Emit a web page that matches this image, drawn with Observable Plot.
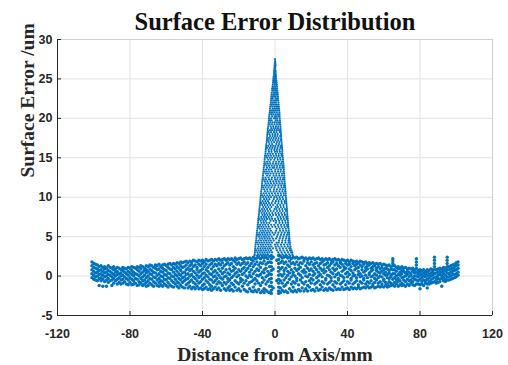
<!DOCTYPE html>
<html>
<head>
<meta charset="utf-8">
<script src="https://cdn.jsdelivr.net/npm/d3@7"></script>
<script src="https://cdn.jsdelivr.net/npm/@observablehq/plot@0.6"></script>
<style>
  html, body { margin: 0; padding: 0; background: #fff; }
  #chart { width: 508px; height: 365px; }
</style>
</head>
<body>
<div id="chart"></div>
<script>
const titleText = "Surface Error Distribution";
const xLabel = "Distance from Axis/mm";
const yLabel = "Surface Error /um";
const xTicks = [-120, -80, -40, 0, 40, 80, 120];
const yTicks = [-5, 0, 5, 10, 15, 20, 25, 30];

// Low band of points: [x, y values...]
const bandColumns = [
  [-101, 1.8, 1.3, 0.8, 0.3, -0.2],
  [-100, 1.6, 1.1, 0.6, 0.1, -0.4],
  [-99, 1.5, 1.0, 0.4, -0.1, -0.5],
  [-98, 1.4, 0.9, 0.5, 0.0, -0.6],
  [-97, 1.2, 0.7, 0.2, -0.3, -1.2],
  [-96, 1.3, 0.8, 0.3, -0.2, -0.6],
  [-95, 1.1, 0.6, 0.1, -0.4, -1.3],
  [-94, 1.2, 0.9, 0.4, -0.1, -0.7],
  [-93, 1.0, 0.5, 0.0, -0.5, -1.3],
  [-92, 1.3, 0.7, 0.2, -0.3, -0.8],
  [-91, 1.1, 0.6, 0.1, -0.6],
  [-90, 1.0, 0.4, -0.1, -0.5, -1.2],
  [-89, 1.2, 0.8, 0.2, -0.3, -0.9],
  [-88, 0.9, 0.5, 0.0, -0.6],
  [-87, 1.1, 0.6, 0.2, -0.4, -1.0],
  [-86, 1.0, 0.3, -0.2, -0.8],
  [-85, 0.8, 0.4, 0.0, -0.5, -1.0],
  [-84, 1.1, 0.7, 0.1, -0.4, -0.9],
  [-83, 1.0, 0.5, -0.1, -0.7],
  [-82, 0.9, 0.3, -0.3, -1.0],
  [-81, 1.1, 0.6, 0.1, -0.5, -1.1],
  [-80, 1.0, 0.4, -0.2, -0.8],
  [-79, 1.2, 0.7, 0.2, -0.4, -1.1],
  [-78, 1.1, 0.5, 0.0, -0.6, -1.0],
  [-77, 1.0, 0.3, -0.3, -0.9],
  [-76, 1.2, 0.8, 0.2, -0.4, -1.2],
  [-75, 1.1, 0.6, 0.0, -0.7, -1.1],
  [-74, 1.3, 0.9, 0.3, -0.3, -0.9],
  [-73, 1.2, 0.5, -0.1, -0.6, -1.2],
  [-72, 1.0, 0.7, 0.1, -0.5, -1.0],
  [-71, 1.3, 0.8, 0.4, -0.2, -0.8, -1.3],
  [-70, 1.2, 0.6, 0.0, -0.6, -1.2],
  [-69, 1.4, 0.9, 0.3, -0.3, -0.9],
  [-68, 1.3, 0.7, 0.2, -0.4, -1.1],
  [-67, 1.1, 0.5, -0.1, -0.7, -1.3],
  [-66, 1.4, 1.0, 0.4, -0.2, -0.9],
  [-65, 1.3, 0.8, 0.1, -0.5, -1.2],
  [-64, 1.5, 0.9, 0.3, -0.3, -0.8, -1.3],
  [-63, 1.2, 0.6, 0.0, -0.6, -1.1],
  [-62, 1.4, 1.0, 0.5, -0.1, -0.7, -1.3],
  [-61, 1.5, 0.8, 0.2, -0.4, -1.0],
  [-60, 1.3, 0.7, 0.1, -0.5, -1.2],
  [-59, 1.5, 1.1, 0.4, -0.2, -0.8, -1.4],
  [-58, 1.6, 0.9, 0.3, -0.3, -1.1],
  [-57, 1.4, 0.8, 0.0, -0.6, -1.3],
  [-56, 1.6, 1.1, 0.5, -0.1, -0.8, -1.4],
  [-55, 1.5, 0.9, 0.2, -0.4, -1.0],
  [-54, 1.7, 1.2, 0.6, 0.0, -0.7, -1.3],
  [-53, 1.6, 1.0, 0.3, -0.3, -0.9, -1.5],
  [-52, 1.8, 1.3, 0.7, 0.1, -0.5, -1.2],
  [-51, 1.7, 1.1, 0.4, -0.2, -0.8, -1.4],
  [-50, 1.8, 1.2, 0.5, -0.1, -0.6, -1.5],
  [-49, 1.9, 1.4, 0.8, 0.2, -0.4, -1.1],
  [-48, 1.7, 1.0, 0.3, -0.3, -0.9, -1.5],
  [-47, 1.9, 1.3, 0.7, 0.0, -0.7, -1.3],
  [-46, 1.8, 1.5, 0.9, 0.2, -0.5, -1.6],
  [-45, 2.0, 1.2, 0.6, -0.1, -0.8, -1.4],
  [-44, 1.9, 1.4, 0.4, -0.3, -1.0, -1.6],
  [-43, 1.8, 1.1, 0.8, 0.1, -0.6, -1.3],
  [-42, 2.0, 1.5, 0.5, -0.2, -0.9, -1.6],
  [-41, 1.9, 1.3, 0.7, 0.0, -0.7, -1.5],
  [-40, 2.0, 1.6, 0.9, 0.3, -0.4, -1.2, -1.7],
  [-39, 1.8, 1.2, 0.4, -0.2, -1.0, -1.6],
  [-38, 2.1, 1.5, 0.8, 0.1, -0.6, -1.4],
  [-37, 1.9, 1.1, 0.6, -0.1, -0.8, -1.7],
  [-36, 2.0, 1.4, 0.3, -0.4, -1.1, -1.6],
  [-35, 2.1, 1.6, 0.9, 0.2, -0.5, -1.3, -1.8],
  [-34, 1.9, 1.2, 0.5, -0.1, -0.8, -1.6],
  [-33, 2.1, 1.5, 0.7, 0.0, -0.6, -1.4],
  [-32, 2.0, 1.3, 0.4, -0.3, -1.0, -1.7],
  [-31, 2.2, 1.6, 0.9, 0.1, -0.7, -1.5],
  [-30, 2.0, 1.4, 0.6, -0.2, -0.9, -1.8],
  [-29, 2.1, 1.7, 1.0, 0.3, -0.4, -1.2],
  [-28, 2.2, 1.3, 0.5, -0.1, -0.8, -1.6],
  [-27, 2.0, 1.5, 0.8, 0.0, -1.0, -1.8],
  [-26, 2.2, 1.7, 0.4, -0.3, -0.7, -1.5],
  [-25, 2.1, 1.4, 0.9, 0.2, -0.5, -1.3, -1.8],
  [-24, 2.2, 1.6, 0.6, -0.2, -0.9, -1.7],
  [-23, 2.0, 1.2, 0.7, 0.0, -1.1, -1.9],
  [-22, 2.3, 1.8, 1.0, 0.3, -0.6, -1.4],
  [-21, 2.1, 1.5, 0.5, -0.1, -0.8, -1.8],
  [-20, 2.2, 1.7, 0.8, 0.1, -1.0, -1.6],
  [-19, 2.3, 1.4, 0.6, -0.3, -0.7, -1.9],
  [-18, 2.1, 1.6, 0.9, 0.2, -0.5, -1.3],
  [-17, 2.2, 1.8, 1.1, 0.4, -0.9, -1.7],
  [-16, 2.3, 1.5, 0.7, 0.0, -0.6, -1.9],
  [-15, 2.2, 1.7, 1.0, -0.2, -1.1, -2.0],
  [-14, 2.3, 1.3, 0.5, 0.1, -0.8, -1.6],
  [-13, 2.1, 1.6, 0.8, -0.1, -0.7, -1.9],
  [-12, 2.4, 1.9, 1.2, 0.3, -0.5, -1.4, -2.0],
  [-11, 2.2, 1.5, 0.6, -0.3, -1.0, -1.8],
  [-10, 2.3, 1.8, 0.9, 0.1, -0.6, -2.0],
  [-9, 2.4, 1.4, 0.7, 0.0, -0.9, -1.7],
  [-8, 2.2, 1.7, 1.1, 0.2, -1.2, -2.1],
  [-7, 2.4, 1.6, 0.5, -0.2, -0.8, -1.9],
  [-6, 2.3, 1.9, 0.8, 0.4, -0.5, -1.6, -2.1],
  [-5, 2.4, 1.5, 1.0, -0.1, -1.0, -1.8],
  [-4, 2.2, 1.7, 0.6, 0.1, -0.7, -2.0],
  [-3, 2.5, 1.8, 1.2, 0.3, -0.4, -1.3, -2.1],
  [-2, 2.6, 2.2, 1.7, 1.2, 0.7, 0.2, -0.3, -0.8, -1.3, -1.8, -2.2],
  [-1, 2.4, 0.9, -1.5],
  [1, 2.0, -0.6],
  [2, 2.6, 2.1, 1.6, 1.1, 0.6, 0.1, -0.4, -0.9, -1.4, -1.9, -2.2],
  [3, 2.5, 1.7, 0.9, 0.2, -0.6, -1.5, -2.1],
  [4, 2.3, 1.9, 1.1, 0.0, -0.9, -1.8],
  [5, 2.4, 1.6, 0.7, 0.3, -0.5, -1.3, -2.0],
  [6, 2.5, 1.8, 1.0, -0.2, -1.1, -1.9],
  [7, 2.3, 1.4, 0.6, 0.1, -0.8, -2.1],
  [8, 2.4, 1.9, 1.2, 0.4, -0.4, -1.6],
  [9, 2.2, 1.6, 0.8, -0.1, -1.0, -1.9],
  [10, 2.4, 1.7, 0.5, 0.2, -0.7, -1.4, -2.0],
  [11, 2.3, 1.5, 1.0, 0.0, -0.9, -1.8],
  [12, 2.4, 1.8, 0.7, -0.3, -0.6, -2.0],
  [13, 2.2, 1.4, 0.9, 0.3, -1.1, -1.7],
  [14, 2.3, 1.7, 1.1, 0.1, -0.5, -1.9],
  [15, 2.4, 1.6, 0.6, -0.2, -0.8, -1.5],
  [16, 2.2, 1.9, 0.8, 0.4, -1.0, -1.9],
  [17, 2.3, 1.3, 0.5, 0.0, -0.7, -1.6],
  [18, 2.1, 1.7, 1.0, -0.1, -1.2, -1.9],
  [19, 2.3, 1.5, 0.7, 0.2, -0.6, -1.4],
  [20, 2.2, 1.8, 0.9, -0.3, -0.9, -1.8],
  [21, 2.3, 1.4, 0.6, 0.1, -0.5, -1.7],
  [22, 2.1, 1.6, 1.1, 0.3, -1.0, -1.9],
  [23, 2.2, 1.7, 0.8, -0.2, -0.8, -1.5],
  [24, 2.3, 1.3, 0.5, 0.0, -0.6, -1.8],
  [25, 2.1, 1.6, 1.0, 0.2, -1.1, -1.7],
  [26, 2.2, 1.8, 0.7, -0.1, -0.7, -1.4],
  [27, 2.0, 1.4, 0.9, 0.4, -0.9, -1.8],
  [28, 2.2, 1.5, 0.6, -0.3, -0.5, -1.6],
  [29, 2.1, 1.7, 1.1, 0.1, -1.0, -1.8],
  [30, 2.2, 1.3, 0.8, 0.0, -0.8, -1.5],
  [31, 2.0, 1.6, 0.5, -0.2, -0.6, -1.7],
  [32, 2.1, 1.8, 1.0, 0.3, -1.1, -1.8],
  [33, 2.2, 1.4, 0.7, -0.1, -0.7, -1.4],
  [34, 2.0, 1.6, 0.9, 0.2, -0.9, -1.7],
  [35, 2.1, 1.3, 0.4, -0.3, -0.5, -1.6],
  [36, 1.9, 1.7, 1.1, 0.1, -1.0, -1.7],
  [37, 2.1, 1.5, 0.6, 0.0, -0.8, -1.4],
  [38, 2.0, 1.2, 0.8, -0.2, -0.6, -1.7],
  [39, 1.9, 1.6, 1.0, 0.3, -1.1, -1.6],
  [40, 2.0, 1.4, 0.5, -0.1, -0.7, -1.5],
  [41, 1.8, 1.5, 0.9, 0.2, -0.9, -1.7],
  [42, 2.0, 1.2, 0.7, -0.3, -0.5, -1.4],
  [43, 1.9, 1.6, 0.4, 0.0, -1.0, -1.6],
  [44, 1.8, 1.3, 0.8, 0.1, -0.8, -1.5],
  [45, 1.9, 1.5, 1.0, -0.2, -0.6, -1.6],
  [46, 1.7, 1.1, 0.6, 0.2, -1.1, -1.4],
  [47, 1.9, 1.4, 0.3, -0.1, -0.7, -1.6],
  [48, 1.8, 1.2, 0.8, 0.0, -0.9, -1.5],
  [49, 1.7, 1.5, 0.5, -0.3, -0.5, -1.4],
  [50, 1.8, 1.1, 0.7, 0.1, -1.0, -1.5],
  [51, 1.6, 1.3, 0.9, -0.2, -0.7, -1.3],
  [52, 1.7, 1.4, 0.4, 0.2, -0.9, -1.5],
  [53, 1.6, 1.0, 0.6, -0.1, -0.6, -1.4],
  [54, 1.7, 1.2, 0.8, 0.0, -1.0, -1.3],
  [55, 1.5, 1.3, 0.3, -0.3, -0.8, -1.5],
  [56, 1.6, 1.0, 0.7, 0.1, -0.5, -1.4],
  [57, 1.5, 1.2, 0.5, -0.2, -0.9, -1.3],
  [58, 1.6, 0.9, 0.4, 0.0, -0.7, -1.4],
  [59, 1.4, 1.1, 0.6, -0.1, -1.0, -1.3],
  [60, 1.5, 0.8, 0.3, -0.4, -0.6, -1.4],
  [61, 1.4, 1.0, 0.5, 0.1, -0.8, -1.2],
  [62, 1.3, 0.9, 0.2, -0.2, -1.0, -1.4],
  [63, 1.4, 0.7, 0.4, -0.3, -0.7, -1.3],
  [64, 1.2, 0.9, 0.1, -0.1, -0.9, -1.2],
  [65, 2.2, 1.9, 1.6, 1.3, 0.8, 0.3, -0.4, -1.1],
  [66, 1.3, 0.8, 0.3, -0.2, -0.8, -1.3],
  [67, 1.1, 0.6, 0.0, -0.5, -1.0],
  [68, 1.2, 0.9, 0.2, -0.3, -0.7, -1.3],
  [69, 1.0, 0.5, 0.1, -0.6, -1.1],
  [70, 1.2, 0.7, 0.3, -0.2, -0.9, -1.2],
  [71, 1.0, 0.6, -0.1, -0.5, -1.1],
  [72, 1.1, 0.4, 0.0, -0.7, -1.3],
  [73, 0.9, 0.6, 0.2, -0.4, -1.0],
  [74, 1.0, 0.5, -0.1, -0.6, -1.2],
  [75, 0.9, 0.3, 0.1, -0.5, -0.9],
  [76, 1.0, 0.6, -0.2, -0.7, -1.1],
  [77, 0.8, 0.4, 0.0, -0.4, -1.2],
  [78, 2.2, 1.8, 1.4, 1.0, 0.5, 0.0, -0.5, -1.0],
  [79, 0.7, 0.3, -0.1, -0.6, -1.0],
  [80, 0.8, 0.5, 0.1, -0.4, -1.1, -1.6],
  [81, 0.7, 0.2, -0.2, -0.7, -1.0],
  [82, 0.8, 0.4, 0.0, -0.5, -1.2],
  [83, 0.6, 0.3, -0.1, -0.6, -0.9],
  [84, 0.8, 0.5, 0.1, -0.4, -1.0, -1.5],
  [85, 0.7, 0.2, -0.2, -0.7, -1.0],
  [86, 0.9, 0.4, 0.0, -0.5, -0.9],
  [87, 0.8, 0.5, 0.1, -0.3, -0.8],
  [88, 2.4, 2.0, 1.6, 1.2, 0.8, 0.3, -0.2, -0.7],
  [89, 0.8, 0.4, -0.1, -0.5, -0.9],
  [90, 0.9, 0.5, 0.1, -0.3, -0.8],
  [91, 1.0, 0.6, 0.2, -0.4, -0.7],
  [92, 0.9, 0.5, 0.0, -0.3, -1.3],
  [93, 1.1, 0.7, 0.3, -0.2, -0.6],
  [94, 1.0, 0.6, 0.1, -0.4, -0.7],
  [95, 2.4, 2.0, 1.6, 1.2, 0.8, 0.4, -0.1, -0.5],
  [96, 1.2, 0.8, 0.3, -0.1, -0.5],
  [97, 1.3, 0.9, 0.5, 0.0, -0.4],
  [98, 1.4, 1.0, 0.6, 0.2, -0.3],
  [99, 1.5, 1.1, 0.7, 0.2, -0.2],
  [100, 1.7, 1.3, 0.8, 0.3, -0.1],
  [101, 1.8, 1.4, 1.0, 0.5, 0.1]
];

// Central peak of points: [y, x values...]
const spikeRows = [
  [27.5, 0.0],
  [27.25, 0.1],
  [27.0, -0.1, 0.2],
  [26.75, -0.2, 0.3],
  [26.5, -0.3, 0.2],
  [26.25, -0.4, 0.1],
  [26.0, -0.5, 0.0, 0.4],
  [25.75, -0.6, -0.1, 0.4],
  [25.5, -0.6, 0.1, 0.5],
  [25.25, -0.8, 0.0, 0.5],
  [25.0, -0.9, -0.2, 0.6],
  [24.75, -1.0, -0.4, 0.2, 0.8],
  [24.5, -1.1, -0.3, 0.4, 0.9],
  [24.25, -1.2, -0.1, 0.7, 1.0],
  [24.0, -1.4, -0.6, 0.2, 1.1],
  [23.75, -1.6, -0.9, -0.2, 0.5, 1.2],
  [23.5, -1.5, -0.7, 0.1, 0.8, 1.3],
  [23.25, -1.8, -0.6, 0.3, 1.1, 1.4],
  [23.0, -1.9, -1.0, -0.2, 0.7, 1.5],
  [22.75, -2.0, -1.4, -0.5, 0.4, 1.6],
  [22.5, -2.1, -1.2, 0.3, 1.0, 1.7],
  [22.25, -2.2, -1.0, 0.0, 0.9, 1.8],
  [22.0, -2.3, -1.4, -0.5, 0.5, 1.9],
  [21.75, -2.5, -1.8, -0.9, 0.1, 1.0, 2.0],
  [21.5, -2.6, -1.6, -0.4, 0.6, 1.4, 2.1],
  [21.25, -2.7, -1.2, -0.2, 0.8, 1.7, 2.2],
  [21.0, -2.8, -1.7, -0.8, 0.2, 1.2, 2.3],
  [20.75, -2.9, -2.3, -1.4, -0.3, 1.0, 2.4],
  [20.5, -3.1, -2.0, -0.9, 0.4, 1.6, 2.5],
  [20.25, -3.2, -1.6, -0.1, 0.6, 1.8, 2.5],
  [20.0, -3.3, -2.2, -0.6, 0.1, 1.1, 2.6],
  [19.75, -3.4, -2.8, -1.8, 0.4, 1.4, 2.7],
  [19.5, -3.5, -2.5, -1.3, -0.2, 0.9, 2.0, 2.8],
  [19.25, -3.6, -3.0, -1.7, -0.3, 1.1, 2.4, 2.9],
  [19.0, -3.7, -2.4, -1.0, 0.5, 1.8, 3.0],
  [18.75, -3.9, -2.1, -0.8, 0.4, 1.6, 3.0],
  [18.5, -4.0, -2.8, -1.6, -0.3, 1.0, 2.2, 3.1],
  [18.25, -4.1, -3.5, -2.2, -0.6, 0.8, 2.6, 3.2],
  [18.0, -4.2, -3.0, -1.4, 0.1, 1.5, 3.3],
  [17.75, -4.3, -2.7, -1.3, 0.0, 1.3, 2.8, 3.4],
  [17.5, -4.4, -3.3, -2.0, -0.7, 0.6, 2.0, 3.4],
  [17.25, -4.5, -3.9, -2.6, -1.2, 0.3, 1.7, 3.1, 3.5],
  [17.0, -4.6, -3.4, -1.9, -0.5, 1.1, 2.4, 3.6],
  [16.75, -4.8, -3.1, -1.6, 0.8, 2.2, 3.7],
  [16.5, -4.9, -3.7, -2.3, -1.0, 0.3, 1.8, 3.1, 3.8],
  [16.25, -5.0, -4.3, -2.9, -1.5, -0.1, 1.4, 3.0, 3.9],
  [16.0, -5.1, -3.5, -2.0, -0.4, 1.0, 2.5, 4.0],
  [15.75, -5.2, -3.3, -1.9, 0.0, 1.2, 2.7, 4.0],
  [15.5, -5.3, -4.0, -2.6, -1.2, 0.5, 2.0, 3.4, 4.1],
  [15.25, -5.5, -4.8, -3.6, -2.2, -0.7, 0.8, 2.1, 3.6, 4.2],
  [15.0, -5.6, -4.3, -2.9, -1.5, 0.0, 1.4, 2.8, 4.3],
  [14.75, -5.7, -3.7, -2.3, -0.4, 1.5, 3.0, 4.4],
  [14.5, -5.8, -4.4, -3.0, -0.9, 0.7, 2.2, 3.7, 4.5],
  [14.25, -5.9, -5.2, -4.0, -2.6, -1.1, 0.5, 1.9, 3.4, 4.6],
  [14.0, -6.0, -4.7, -3.3, -1.8, -0.3, 1.2, 2.7, 4.1, 4.7],
  [13.75, -6.2, -4.4, -2.9, -1.3, -0.6, 1.0, 2.6, 4.1, 4.8],
  [13.5, -6.3, -5.0, -3.5, -2.1, 0.2, 1.8, 3.3, 4.9],
  [13.25, -6.4, -5.7, -4.5, -3.1, -1.6, 0.1, 1.6, 3.1, 4.6, 4.9],
  [13.0, -6.5, -5.1, -3.8, -2.4, -0.9, 0.8, 2.3, 3.9, 5.0],
  [12.75, -6.6, -4.4, -2.9, -0.8, 0.7, 2.3, 3.8, 5.1],
  [12.5, -6.7, -5.3, -3.6, -1.7, -0.1, 1.5, 3.0, 4.6, 5.2],
  [12.25, -6.9, -6.2, -4.9, -3.3, -1.9, 0.1, 1.3, 2.9, 4.4, 5.2],
  [12.0, -7.0, -5.6, -4.2, -2.6, -1.0, 0.6, 2.1, 3.7, 5.3],
  [11.75, -7.1, -5.2, -3.7, -2.2, -0.6, 1.0, 2.6, 4.1, 5.4],
  [11.5, -7.2, -5.9, -4.5, -3.0, -1.4, 0.2, 1.9, 3.4, 4.9, 5.5],
  [11.25, -7.3, -6.6, -5.2, -3.6, -2.0, -0.3, 1.9, 3.6, 5.0, 5.6],
  [11.0, -7.4, -6.0, -4.4, -2.7, -0.6, 1.1, 2.8, 4.3, 5.7],
  [10.75, -7.6, -5.6, -4.1, -2.5, -0.8, 0.8, 2.4, 4.0, 5.5, 5.8],
  [10.5, -7.7, -6.3, -4.9, -3.3, -1.7, 0.0, 1.6, 3.2, 4.8, 5.9],
  [10.25, -7.8, -7.1, -5.8, -4.3, -2.9, -1.3, 0.4, 1.8, 3.3, 4.9, 5.9],
  [10.0, -7.9, -6.5, -5.1, -3.6, -2.2, -0.4, 0.9, 2.5, 4.1, 6.0],
  [9.75, -8.0, -6.0, -4.6, -3.1, -0.7, 1.3, 2.8, 4.5, 6.1],
  [9.5, -8.1, -6.8, -5.3, -3.9, -1.3, 0.5, 2.0, 3.6, 5.3, 6.2],
  [9.25, -8.2, -7.5, -6.2, -4.8, -3.3, -1.8, 0.1, 1.9, 3.7, 5.4, 6.3],
  [9.0, -8.3, -7.0, -5.6, -4.1, -2.6, -1.0, 1.2, 2.9, 4.6, 6.4],
  [8.75, -8.5, -6.5, -5.1, -3.6, -2.0, 0.4, 1.6, 3.2, 4.8, 6.5],
  [8.5, -8.6, -7.2, -5.9, -4.4, -2.8, -0.3, 0.8, 2.4, 4.0, 5.6, 6.6],
  [8.25, -8.7, -8.0, -6.7, -5.4, -3.9, -2.4, -0.8, 1.1, 2.7, 4.3, 6.0, 6.7],
  [8.0, -8.8, -7.4, -6.0, -4.7, -3.2, -1.5, 0.3, 1.9, 3.5, 5.2, 6.7],
  [7.75, -8.9, -6.9, -5.6, -4.2, -2.7, -1.1, 0.6, 2.2, 3.9, 5.5, 6.8],
  [7.5, -9.0, -7.6, -6.2, -4.9, -3.5, -1.9, 1.4, 3.0, 4.6, 6.2, 6.9],
  [7.25, -9.2, -8.5, -7.1, -5.8, -4.4, -3.0, -1.6, 0.0, 1.8, 3.3, 4.9, 6.4, 7.0],
  [7.0, -9.3, -7.9, -6.4, -5.1, -2.5, -0.8, 0.6, 2.3, 4.0, 5.6, 7.1],
  [6.75, -9.4, -7.5, -6.1, -4.6, -3.1, 0.5, 2.5, 4.2, 5.9, 7.2],
  [6.5, -9.5, -8.2, -6.8, -5.4, -3.8, -2.1, -0.4, 1.6, 3.3, 5.0, 6.6, 7.3],
  [6.25, -9.6, -8.9, -7.6, -6.3, -4.8, -3.4, -1.5, 0.2, 1.9, 3.6, 5.3, 6.8, 7.4],
  [6.0, -9.7, -8.4, -7.0, -5.6, -4.1, -2.7, 0.9, 2.6, 4.3, 6.0, 7.5],
  [5.75, -9.9, -7.9, -6.5, -5.2, -3.7, -2.2, 0.6, 2.8, 4.5, 6.2, 7.6],
  [5.5, -10.0, -8.6, -7.2, -5.9, -4.5, -3.1, -1.4, 0.2, 1.9, 3.7, 5.4, 7.0, 7.7],
  [5.25, -10.1, -9.4, -8.2, -6.8, -5.4, -4.1, -2.6, -0.6, 1.5, 3.3, 5.0, 6.7, 7.8],
  [5.0, -10.2, -8.9, -7.5, -6.1, -4.8, -3.4, -1.8, 1.1, 2.9, 4.6, 6.3, 7.8],
  [4.75, -10.3, -8.4, -7.0, -5.6, -4.2, -2.9, -1.2, 0.5, 2.6, 4.3, 6.1, 7.6, 8.0],
  [4.5, -10.4, -9.1, -7.7, -6.3, -5.0, -3.6, -2.3, -0.7, 2.2, 4.0, 5.7, 7.4, 8.0],
  [4.25, -10.6, -9.9, -8.6, -7.3, -5.9, -4.5, -3.1, -1.7, 0.9, 2.1, 3.9, 5.8, 7.5, 8.3],
  [4.0, -10.7, -9.3, -7.9, -6.6, -5.2, -3.8, -2.5, 0.0, 1.4, 3.3, 5.0, 6.8, 8.2],
  [3.75, -10.8, -9.0, -7.5, -6.2, -4.8, -3.4, -2.0, 0.4, 1.9, 3.6, 5.4, 7.1, 8.5],
  [3.5, -10.9, -9.5, -8.1, -6.8, -5.5, -4.1, -2.8, -1.2, 0.7, 2.6, 4.4, 6.2, 7.9, 8.6],
  [3.25, -11.0, -10.3, -9.0, -7.7, -6.3, -5.0, -3.6, -2.2, 1.1, 2.9, 4.7, 6.6, 8.3, 9.1],
  [3.0, -11.1, -9.7, -8.4, -7.0, -5.7, -4.3, -3.0, -1.6, 1.8, 3.6, 5.4, 7.2, 8.9, 9.5],
  [2.75, -11.2, -9.4, -7.9, -6.5, -5.2, -3.9, 2.4, 4.1, 6.0, 7.8, 9.6],
  [2.6, -11.3, -9.9, -8.6, -7.2, -5.9, -4.5, 3.0, 4.8, 6.6, 8.4, 9.8]
];

const band = bandColumns.flatMap(([x, ...ys]) => ys.map(y => ({x, y})));
const spike = spikeRows.flatMap(([y, ...xs]) => xs.map(x => ({x, y})));

const blue = "#0072bd";
const serif = "'Liberation Serif', 'Times New Roman', serif";

const chart = Plot.plot({
  width: 508,
  height: 365,
  marginLeft: 57,
  marginRight: 16,
  marginTop: 39,
  marginBottom: 50,
  style: {
    fontFamily: "'Liberation Sans', Arial, sans-serif",
    fontSize: "12.5px",
    fontWeight: "bold",
    color: "#262626",
    background: "#fff"
  },
  x: {domain: [-120, 120]},
  y: {domain: [-5, 30]},
  marks: [
    Plot.gridX(xTicks, {stroke: "#e2e2e2", strokeOpacity: 1}),
    Plot.gridY(yTicks, {stroke: "#e2e2e2", strokeOpacity: 1}),
    Plot.frame({stroke: "#cfcfcf"}),
    Plot.ruleX([-120], {stroke: "#262626"}),
    Plot.ruleY([-5], {stroke: "#262626"}),
    Plot.axisX(xTicks, {tickSize: -4, tickPadding: 18, label: null, tickFormat: d => String(d)}),
    Plot.axisY(yTicks, {tickSize: -4, tickPadding: 9, label: null, tickFormat: d => String(d)}),
    Plot.dot(band, {x: "x", y: "y", r: 1.7, fill: blue}),
    Plot.dot(spike, {x: "x", y: "y", r: 1.1, fill: blue}),
    Plot.text([titleText], {text: d => d, frameAnchor: "top", lineAnchor: "middle", dy: -17.5, fontFamily: serif, fontSize: 24.5, fontWeight: "bold", fill: "#111"}),
    Plot.text([xLabel], {text: d => d, frameAnchor: "bottom", lineAnchor: "middle", dy: 39, fontFamily: serif, fontSize: 19.5, fontWeight: "bold", fill: "#262626"}),
    Plot.text([yLabel], {text: d => d, frameAnchor: "left", lineAnchor: "middle", dx: -30, rotate: -90, fontFamily: serif, fontSize: 19.5, fontWeight: "bold", fill: "#262626"})
  ]
});
document.getElementById("chart").appendChild(chart);
</script>
</body>
</html>
